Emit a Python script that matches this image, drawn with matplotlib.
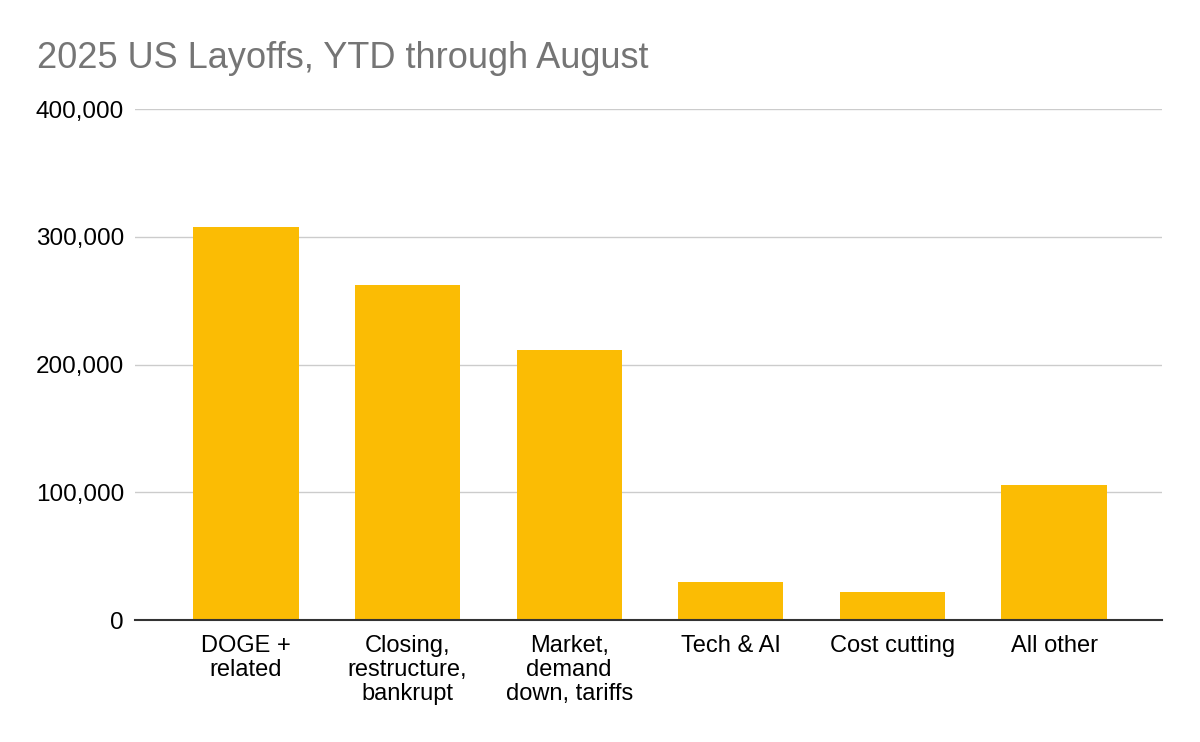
""" 2025 US Layoffs bar chart """
import numpy as np
import matplotlib.pyplot as plt
from matplotlib.ticker import FuncFormatter

plt.rcParams['font.family'] = ['Liberation Sans', 'DejaVu Sans']

categories = ['DOGE +\nrelated', 'Closing,\nrestructure,\nbankrupt', 'Market,\ndemand\ndown, tariffs',
              'Tech & AI', 'Cost cutting', 'All other']
layoffs = [308000, 262500, 211000, 29700, 22000, 106000]
yticks = [0, 100000, 200000, 300000, 400000]

fig = plt.figure(figsize=(12, 7.42), dpi=100)
ax = fig.add_axes([0.1125, 0.1644, 0.8558, 0.6886])

x = np.arange(len(categories))
ax.bar(x, layoffs, width=0.65, color='#FBBC04', zorder=2)

ax.set_xlim(-0.687, 5.668)
ax.set_ylim(0, 400000)
ax.set_yticks(yticks)
ax.yaxis.set_major_formatter(FuncFormatter(lambda v, p: f'{int(v):,}'))
ax.set_xticks(x)
ax.set_xticklabels(categories, linespacing=1.1)

ax.grid(axis='y', color='#cccccc', linewidth=1, zorder=0)
for s in ['top', 'right', 'left']:
    ax.spines[s].set_visible(False)
ax.spines['bottom'].set_color('#333333')
ax.spines['bottom'].set_linewidth(1.5)
ax.spines['bottom'].set_zorder(3)
ax.tick_params(axis='both', length=0, colors='#000000')
ax.tick_params(axis='y', pad=8, labelsize=17.5)
ax.tick_params(axis='x', pad=11, labelsize=17)

fig.text(0.031, 0.908, '2025 US Layoffs, YTD through August', fontsize=26,
         color='#757575', va='baseline', ha='left')

fig.savefig('out.png', dpi=100)
